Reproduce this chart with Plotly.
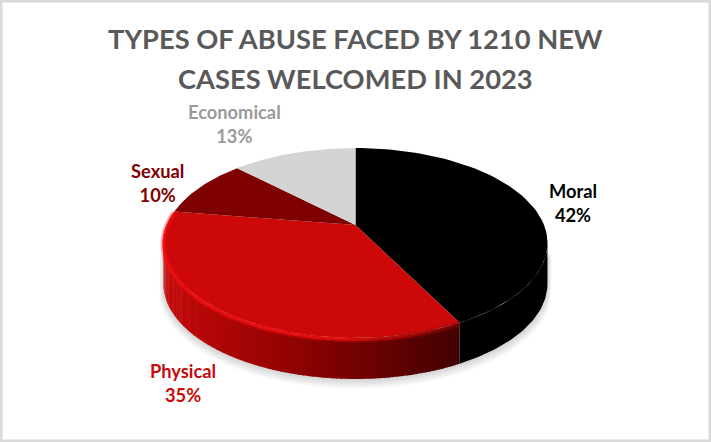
import math
import plotly.graph_objects as go

categories = ["Moral", "Physical", "Sexual", "Economical"]
values = [42.4, 35.0, 10.0, 12.6]
top_colors = ["#000000", "#cc0808", "#7f0000", "#d4d4d4"]
label_colors = ["#000000", "#c80a0a", "#7f0000", "#9a9a9a"]
label_x = [573, 183, 157, 234]
label_y = [203, 383, 183, 124]
title_lines = ["TYPES OF ABUSE FACED BY 1210 NEW", "CASES WELCOMED IN 2023"]
title_y = [38, 78]

W, H = 711, 442
CX, CY, F, G, K, DEPTH = 355.5, 225, 188.5, 91.6, 0.189, 41
SIL_R, SIL_L = 100.9, 259.1   # angles where the rim is vertical on screen


def project(deg, r=1.0, dy=0.0):
    t = math.radians(deg)
    X, Y = r * math.sin(t), r * math.cos(t)
    d = 1 + K * Y
    return CX + F * X / d, CY - G * Y / d + dy


def arc(a0, a1, n, r=1.0, dy=0.0):
    pts = [project(a0 + (a1 - a0) * i / n, r, dy) for i in range(n + 1)]
    return [p[0] for p in pts], [p[1] for p in pts]


def mix(c0, c1, u):
    u = max(0, min(1, u))
    return "rgb(%d,%d,%d)" % tuple(round(a + (b - a) * u) for a, b in zip(c0, c1))


fig = go.Figure()


def poly(xs, ys, color, width=0):
    fig.add_trace(go.Scatter(x=xs, y=ys, mode="lines", fill="toself", fillcolor=color,
                             line=dict(color=color, width=width), hoverinfo="skip", showlegend=False))


# slice angles come from the values
total = sum(values)
edges = [0]
for v in values:
    edges.append(edges[-1] + 360 * v / total)

# soft shadow
for i in range(7):
    xs, ys = arc(SIL_R, SIL_L, 90, 1.0 + 0.003 * (i + 1), DEPTH + 1 + i)
    xt, yt = arc(SIL_L, SIL_R, 4, 1.0 + 0.003 * (i + 1), 10)
    poly(xs + xt, ys + yt, "rgba(0,0,0,0.024)")

# side wall: Moral
xs, ys = arc(SIL_R, edges[1], 50)
xb, yb = arc(edges[1], SIL_R, 50, dy=DEPTH)
poly(xs + xb, ys + yb, "#000000")

# side wall: Physical, shaded strip by strip
lit = (196, 10, 10)
mid = (150, 2, 2)
dark = (66, 0, 0)
N = 90
step = (SIL_L - edges[1]) / N
strips = list(range(N))
for i in strips:
    a0 = edges[1] + step * i
    a1 = a0 + step * 1.25
    x0, y0 = project(a0)
    x1, y1 = project(min(a1, SIL_L))
    xm = (x0 + x1) / 2
    u = (xm - 165) / (457 - 165)
    col = mix(lit, mid, u / 0.4) if u < 0.4 else mix(mid, dark, (u - 0.4) / 0.6)
    poly([x0, x1, x1, x0, x0], [y0, y1, y1 + DEPTH, y0 + DEPTH, y0], col, 0)

# top faces
for i, c in enumerate(top_colors):
    a0, a1 = edges[i], edges[i + 1]
    xs, ys = arc(a0, a1, 70)
    poly([CX] + xs + [CX], [CY] + ys + [CY], c)

# bevel along the Physical rim
bright = (236, 16, 16)
step2 = (edges[2] - edges[1]) / N
for width, alpha in ((6, 0.35), (2.5, 1.0)):
    for i in range(N):
        a0 = edges[1] + step2 * i
        xs, ys = arc(a0, a0 + step2, 1, dy=1.5)
        xm = (xs[0] + xs[1]) / 2
        u = (xm - 165) / (457 - 165)
        col = mix(bright, (230, 14, 14), u / 0.6) if u < 0.6 else mix((230, 14, 14), (120, 4, 4), (u - 0.6) / 0.4)
        fig.add_trace(go.Scatter(x=xs, y=ys, mode="lines", opacity=alpha, line=dict(color=col, width=width),
                                 hoverinfo="skip", showlegend=False))

# title
for line, ty in zip(title_lines, title_y):
    fig.add_annotation(x=W / 2, y=ty, text=line, showarrow=False,
                       font=dict(family="Lato", size=27.3, color="#595959", weight="bold"))

# data labels
for name, val, c, lx, ly in zip(categories, values, label_colors, label_x, label_y):
    fig.add_annotation(x=lx, y=ly, text=f"{name}<br>{val:.0f}%", showarrow=False,
                       font=dict(family="Lato", size=18.3, color=c, weight="bold"),
                       align="center")

fig.update_layout(
    width=W, height=H, autosize=False,
    margin=dict(l=0, r=0, t=0, b=0),
    paper_bgcolor="#ffffff", plot_bgcolor="#ffffff", showlegend=False,
    xaxis=dict(range=[0, W], visible=False, fixedrange=True),
    yaxis=dict(range=[H, 0], visible=False, fixedrange=True),
    shapes=[dict(type="rect", xref="paper", yref="paper", x0=0, x1=1, y0=0, y1=1,
                 line=dict(color="#d9d9d9", width=5), layer="above")],
)

fig.write_html("out.html", config={"displayModeBar": False},
               post_script="document.body.style.margin='0';document.documentElement.style.overflow='hidden';")
